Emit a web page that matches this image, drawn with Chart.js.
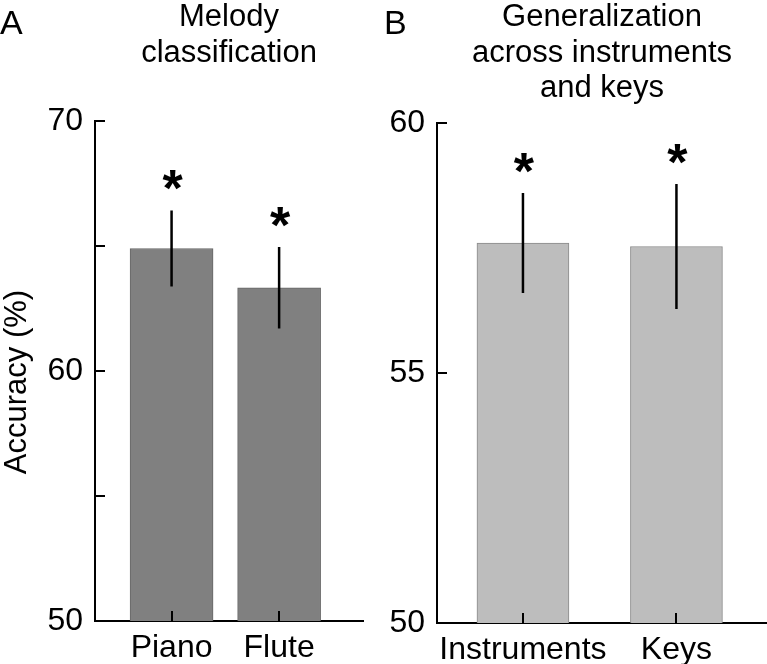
<!DOCTYPE html>
<html>
<head>
<meta charset="utf-8">
<script src="https://cdn.jsdelivr.net/npm/chart.js@4.4.0/dist/chart.umd.min.js"></script>
<style>
  body { margin: 0; background: #fff; }
  #wrap { position: relative; width: 767px; height: 664px; }
  canvas { position: absolute; top: 0; }
  #chartA { left: 0; }
  #chartB { left: 380px; }
</style>
</head>
<body>
<div id="wrap">
  <canvas id="chartA" width="380" height="664"></canvas>
  <canvas id="chartB" width="387" height="664"></canvas>
</div>
<script>
// panel A - melody classification
const labelsA = ["Piano", "Flute"];
const meansA = [64.9, 63.33];
const errA = [1.52, 1.63];
const starsA = ["*", "*"];
const titleA = ["Melody", "classification"];

// panel B - generalization
const labelsB = ["Instruments", "Keys"];
const meansB = [57.6, 57.53];
const errB = [1.0, 1.25];
const starsB = ["*", "*"];
const titleB = ["Generalization", "across instruments", "and keys"];

const yTitle = "Accuracy (%)";

const FONT = '"Liberation Sans", Arial, Helvetica, sans-serif';
Chart.defaults.font.family = FONT;
Chart.defaults.color = "#000";

// inward ticks, error bars, stars, panel letter and y title
const decor = {
  id: "decor",
  afterDatasetsDraw(chart, args, opts) {
    const { ctx, chartArea, scales: { x, y } } = chart;
    ctx.save();
    ctx.strokeStyle = "#000";
    ctx.lineWidth = 2;
    y.ticks.forEach(t => {
      const py = Math.round(y.getPixelForValue(t.value));
      ctx.beginPath();
      ctx.moveTo(chartArea.left, py);
      ctx.lineTo(chartArea.left + 10, py);
      ctx.stroke();
    });
    x.ticks.forEach(t => {
      const px = Math.round(x.getPixelForValue(t.value));
      ctx.beginPath();
      ctx.moveTo(px, chartArea.bottom);
      ctx.lineTo(px, chartArea.bottom - 10);
      ctx.stroke();
    });

    ctx.lineWidth = 2.5;
    ctx.fillStyle = "#000";
    ctx.font = "bold 52px " + FONT;
    ctx.textAlign = "center";
    ctx.textBaseline = "alphabetic";
    opts.means.forEach((m, i) => {
      const px = x.getPixelForValue(i + 1);
      const top = y.getPixelForValue(m + opts.err[i]);
      const bot = y.getPixelForValue(m - opts.err[i]);
      ctx.beginPath();
      ctx.moveTo(px, top);
      ctx.lineTo(px, bot);
      ctx.stroke();
      ctx.fillText(opts.stars[i], px + 1, top - 4);
    });

    ctx.font = "34px " + FONT;
    ctx.textAlign = "left";
    ctx.fillText(opts.letter, opts.letterX, 34);

    if (opts.yTitle) {
      ctx.font = "31px " + FONT;
      ctx.textAlign = "center";
      ctx.translate(26, 382);
      ctx.rotate(-Math.PI / 2);
      ctx.fillText(opts.yTitle, 0, 0);
    }
    ctx.restore();
  }
};

function makeChart(id, cfg) {
  const ctx = document.getElementById(id).getContext("2d");
  return new Chart(ctx, {
    type: "bar",
    data: {
      datasets: [{
        data: cfg.means.map((v, i) => ({ x: i + 1, y: v })),
        backgroundColor: cfg.fill,
        borderColor: cfg.edge,
        borderWidth: 1,
        borderSkipped: "bottom",
        barThickness: cfg.barW
      }]
    },
    options: {
      responsive: false,
      animation: false,
      devicePixelRatio: 1,
      layout: { padding: { top: 0, left: 0, right: cfg.padRight, bottom: 0 } },
      plugins: {
        legend: { display: false },
        tooltip: { enabled: false },
        title: {
          display: true,
          text: cfg.title,
          fullSize: false,
          color: "#000",
          font: { size: 31, weight: "normal", lineHeight: 1.14 },
          padding: { top: 0, bottom: cfg.titleGap }
        },
        decor: {
          means: cfg.means,
          err: cfg.err,
          stars: cfg.stars,
          letter: cfg.letter,
          letterX: cfg.letterX,
          yTitle: cfg.yTitle
        }
      },
      scales: {
        x: {
          type: "linear",
          min: cfg.xMin,
          max: cfg.xMax,
          offset: false,
          bounds: "data",
          afterBuildTicks: s => { s.ticks = cfg.labels.map((l, i) => ({ value: i + 1 })); },
          afterFit: s => { s.height = cfg.xHeight; },
          grid: { display: false, drawTicks: false },
          border: { display: true, color: "#000", width: 2 },
          ticks: {
            autoSkip: false,
            maxRotation: 0,
            padding: 8,
            font: { size: 32 },
            color: "#000",
            callback: v => cfg.labels[v - 1] || ""
          }
        },
        y: {
          min: 50,
          max: cfg.yMax,
          afterFit: s => { s.width = cfg.yWidth; },
          grid: { display: false, drawTicks: false },
          border: { display: true, color: "#000", width: 2 },
          ticks: {
            stepSize: 5,
            padding: 12,
            font: { size: 32 },
            color: "#000",
            callback: v => cfg.shown.includes(v) ? String(v) : ""
          }
        }
      }
    },
    plugins: [decor]
  });
}

makeChart("chartA", {
  labels: labelsA, means: meansA, err: errA, stars: starsA, title: titleA,
  fill: "#808080", edge: "#666666", barW: 83,
  xMin: 0.288, xMax: 2.78, yMax: 70, shown: [50, 60, 70],
  yWidth: 95, xHeight: 43, padRight: 17, titleGap: 50.3,
  yTitle: yTitle, letter: "A", letterX: 0
});

makeChart("chartB", {
  labels: labelsB, means: meansB, err: errB, stars: starsB, title: titleB,
  fill: "#bdbdbd", edge: "#8a8a8a", barW: 92,
  xMin: 0.44, xMax: 2.59, yMax: 60, shown: [50, 55, 60],
  yWidth: 57, xHeight: 41, padRight: 0, titleGap: 17,
  yTitle: "", letter: "B", letterX: 4
});
</script>
</body>
</html>
